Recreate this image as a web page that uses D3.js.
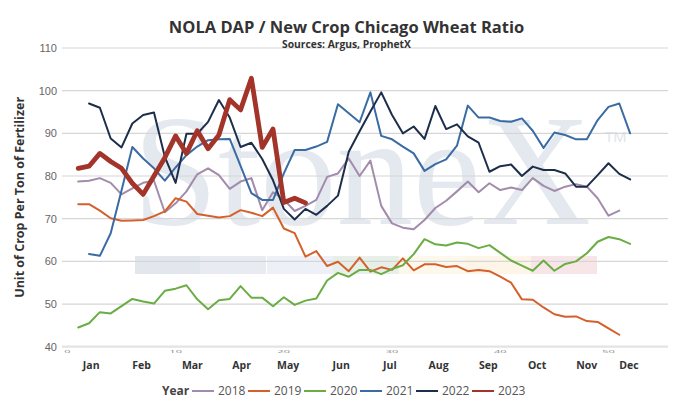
<!DOCTYPE html>
<html>
<head>
<meta charset="utf-8">
<script src="https://cdn.jsdelivr.net/npm/d3@7"></script>
<style>
  body { margin: 0; background: #fff; }
  svg { font-family: "Open Sans", "Noto Sans", sans-serif; }
</style>
</head>
<body>
<svg id="chart" width="693" height="404"></svg>
<script>
// weekly ratio, one array per year (week 1..52, null = no print)
const weeks = d3.range(1, 53);
const years = ["2018", "2019", "2020", "2021", "2022", "2023"];

const y2018 = [78.7, 78.9, 79.5, 78.4, 75.7, 77.1, 78.4, 78.9, 71.5, 73.6, 76.4, 80.4, 81.8, 80.2, 77, 78.7, 79.5, 72, 76.2, 74.5,
  71.8, 73, 74.4, 79.8, 80.6, 84.1, 80, 83.6, 73, 68.9, 67.9, 67.5, 69.7, 72.5, 74.2, 76.4, 78.7, 76.2, 78.3, 76.7,
  77.3, 76.7, 79.5, 77.7, 76.5, 77.5, 78.1, 77.5, 74.8, 70.7, 71.9];
const y2019 = [73.4, 73.4, 71.9, 70.1, 69.5, 69.6, 69.7, 70.6, 71.7, 74.8, 74, 71.1, 70.7, 70.3, 70.6, 72, 71.4, 70.6, 72.6, 67.7,
  66.6, 61.1, 62.4, 58.9, 59.9, 57.7, 60.9, 57.6, 58.6, 58, 60.7, 57.9, 59.3, 59.3, 58.7, 58.9, 57.7, 58, 57.7, 56.4,
  55, 51.1, 51, 49.2, 47.6, 47, 47.1, 46, 45.8, 44.3, 42.8];
const y2020 = [44.5, 45.5, 48.1, 47.8, 49.5, 51.2, 50.6, 50.1, 53.1, 53.6, 54.4, 51.1, 48.8, 50.9, 51.2, 54.2, 51.5, 51.5, 49.5, 51.6,
  49.8, 50.8, 51.3, 55.5, 57.3, 56.4, 58, 58, 57, 58.2, 59.1, 61.7, 65.2, 64, 63.7, 64.4, 64.1, 63.1, 63.8, 62,
  60.2, 59, 57.8, 60.2, 57.8, 59.4, 60, 61.9, 64.6, 65.7, 65.2, 64.1];
const y2021 = [null, 61.7, 61.3, 66.6, 76.6, 86.8, 84.1, 81.8, 78.9, 82, 84.9, 86.9, 88.4, 88.6, 88.7, 82.4, 76, 74.4, 74.4, 80.6,
  86.1, 86.1, 86.9, 88, 96.8, 94.7, 92.6, 99.6, 89.4, 88.6, 86.9, 85.3, 81.2, 82.8, 83.9, 87.1, 96.5, 93.7, 93.7, 92.9,
  92.7, 93.5, 90.6, 86.6, 90.2, 89.6, 88.6, 88.6, 93.1, 96.2, 97, 90];
const y2022 = [null, 97, 96, 88.8, 86.7, 92.3, 94.3, 94.9, 84.5, 78.4, 89.9, 89.9, 92.7, 97.8, 93.7, 86.8, 87.8, 84, 79, 72.3,
  69.8, 72.3, 70.9, 73, 75.4, 85.7, 90.5, 95.1, 99.6, 94.3, 90, 91.6, 88.7, 96.4, 91, 92.1, 89.3, 87.8, 81, 82.3,
  82.7, 80, 82.2, 81.4, 81.4, 80.6, 77.5, 77.5, 80.2, 83, 80.5, 79.2];
const y2023 = [81.8, 82.3, 85.3, 83.4, 81.8, 78.3, 75.7, 80, 84.3, 89.4, 85.3, 90.6, 86.4, 89.6, 97.9, 95.5, 102.9, 86.7, 91, 73.8,
  74.8, 73.7];

// axis labels
const yTicks = [40, 50, 60, 70, 80, 90, 100, 110];
const weekTicks = [0, 10, 20, 30, 40, 50];
const months = ["Jan", "Feb", "Mar", "Apr", "May", "Jun", "Jul", "Aug", "Sep", "Oct", "Nov", "Dec"];
const monthWeeks = [2.2, 6.85, 11.55, 16.1, 20.4, 25.3, 29.8, 34.3, 38.9, 43.4, 48.0, 51.9];

const colors = ["#a28bab", "#d4602c", "#6aad44", "#3a6ca3", "#1d2e4b", "#a3342a"];
const widths = [2, 2, 2, 2, 2, 4.8];
const series = [y2018, y2019, y2020, y2021, y2022, y2023];

const svg = d3.select("#chart");
const margin = { left: 62, right: 25, top: 48, bottom: 57.3 };
const W = 693, H = 404;

const x = d3.scaleLinear().domain([-0.5, 55.5]).range([margin.left, W - margin.right]);
const y = d3.scaleLinear().domain([40, 110]).range([H - margin.bottom, margin.top]);

// StoneX watermark behind everything
const wm = svg.append("g");
const bar = [["#e2e6ed", 135], ["#e8ebf1", 200], ["#edf1f7", 267], ["#e7f0e8", 333],
             ["#fdf8ec", 399], ["#fdf5e7", 465], ["#f8e5e7", 531]];
wm.selectAll("rect").data(bar).enter().append("rect")
  .attr("x", d => d[1]).attr("y", 256).attr("width", 66).attr("height", 18)
  .attr("fill", d => d[0]);
const mark = wm.append("text")
  .style("font-family", "'Liberation Serif', 'DejaVu Serif', serif")
  .style("font-size", "158px")
  .attr("fill", "#e4e8ef")
  .text("StoneX");
// squeeze the word so it spans x 133..591
const natural = mark.node().getComputedTextLength();
mark.attr("transform", `translate(133,224) scale(${458 / natural},1)`);
wm.append("text")
  .attr("x", 605).attr("y", 142)
  .style("font-size", "15px").attr("fill", "#e0e4ea")
  .text("TM");

// gridlines
svg.append("g").selectAll("line").data(yTicks).enter().append("line")
  .attr("x1", x.range()[0]).attr("x2", x.range()[1])
  .attr("y1", d => y(d)).attr("y2", d => y(d))
  .attr("stroke", d => d === 40 ? "#e3e3e3" : "#d6d6d6")
  .attr("stroke-width", d => d === 40 ? 2.2 : 1.2);

// y axis
const yAxis = d3.axisLeft(y).tickValues(yTicks).tickSize(0).tickPadding(5);
svg.append("g").attr("transform", `translate(${margin.left},0)`).call(yAxis)
  .call(g => g.select(".domain").remove())
  .selectAll("text").style("font-size", "11px").attr("fill", "#666");

// week numbers: only the top sliver shows under the baseline
svg.append("g").selectAll("g").data(weekTicks).enter().append("g")
  .attr("transform", d => `translate(${x(d)},350.6) scale(1,0.28)`)
  .append("text")
  .attr("text-anchor", "middle").attr("y", 8)
  .style("font-size", "11px").attr("fill", "#888")
  .text(d => d);

// month labels
svg.append("g").selectAll("text").data(months).enter().append("text")
  .attr("x", (d, i) => x(monthWeeks[i])).attr("y", 369)
  .attr("text-anchor", "middle")
  .style("font-size", "10.5px").style("font-weight", 700).attr("fill", "#333")
  .text(d => d);

// y title
svg.append("text")
  .attr("transform", `translate(24,${(y(40) + y(110)) / 2}) rotate(-90)`)
  .attr("text-anchor", "middle")
  .style("font-size", "12.5px").style("font-weight", 700).attr("fill", "#333")
  .text("Unit of Crop Per Ton of Fertilizer");

// lines
const line = d3.line()
  .defined(d => d.v != null)
  .x(d => x(d.w)).y(d => y(d.v));
svg.append("g").selectAll("path").data(series).enter().append("path")
  .attr("d", s => line(s.map((v, i) => ({ w: weeks[i], v: v }))))
  .attr("fill", "none")
  .attr("stroke", (s, i) => colors[i])
  .attr("stroke-width", (s, i) => widths[i])
  .attr("stroke-linejoin", "round")
  .attr("stroke-linecap", "round");

// title
svg.append("text").attr("x", W / 2).attr("y", 33).attr("text-anchor", "middle")
  .style("font-size", "16.5px").style("font-weight", 700).attr("fill", "#333")
  .text("NOLA DAP / New Crop Chicago Wheat Ratio");
svg.append("text").attr("x", W / 2).attr("y", 48).attr("text-anchor", "middle")
  .style("font-size", "10.3px").style("font-weight", 700).attr("fill", "#333")
  .text("Sources: Argus, ProphetX");

// legend
const lg = svg.append("g").attr("transform", "translate(0,395)");
lg.append("text").attr("x", 162).attr("y", 0)
  .style("font-size", "12px").style("font-weight", 700).attr("fill", "#444").text("Year");
const item = lg.selectAll("g.item").data(years).enter().append("g")
  .attr("transform", (d, i) => `translate(${192 + i * 56},0)`);
item.append("line").attr("x1", 0).attr("x2", 22).attr("y1", -4).attr("y2", -4)
  .attr("stroke", (d, i) => colors[i]).attr("stroke-width", 2);
item.append("text").attr("x", 26).attr("y", 0)
  .style("font-size", "12px").attr("fill", "#555").text(d => d);
</script>
</body>
</html>
